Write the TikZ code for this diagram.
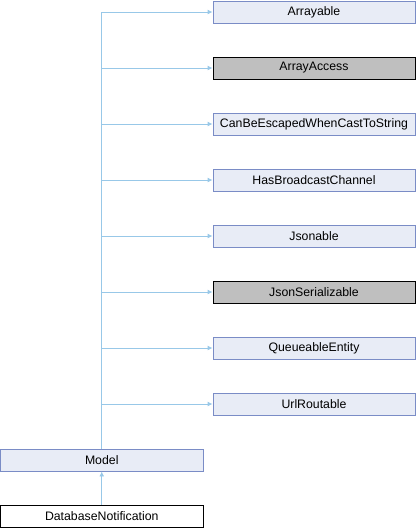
\documentclass[tikz,border=0pt]{standalone}
\usepackage{fontspec}
\setmainfont{Liberation Sans}
\usetikzlibrary{arrows.meta}
\definecolor{boxfill}{RGB}{232,236,246}
\definecolor{boxline}{RGB}{122,140,198}
\definecolor{extfill}{RGB}{191,191,191}
\definecolor{edgecol}{RGB}{152,200,232}
\tikzset{
	cls/.style={draw=boxline, fill=boxfill, minimum width=202pt, minimum height=22pt, inner sep=0pt, font=\fontsize{12.3}{14}\selectfont},
	ext/.style={cls, draw=black, fill=extfill},
	leaf/.style={cls, draw=black, fill=white},
	inh/.style={draw=edgecol, -{Latex[length=5pt,width=5pt]}}
}
\begin{document}
\begin{tikzpicture}[x=1pt,y=-1pt,line width=0.9pt]
		\useasboundingbox (0,0) rectangle (416,528);
		\node[cls] (arrayable) at (314,12) {Arrayable};
		\node[ext] (arrayaccess) at (314,68) {ArrayAccess};
		\node[cls] (escaped) at (314,124) {CanBeEscapedWhenCastToString};
		\node[cls] (broadcast) at (314,180) {HasBroadcastChannel};
		\node[cls] (jsonable) at (314,236) {Jsonable};
		\node[ext] (jsonser) at (314,292) {JsonSerializable};
		\node[cls] (queueable) at (314,348) {QueueableEntity};
		\node[cls] (urlroutable) at (314,404) {UrlRoutable};
		\node[cls, minimum width=202.5pt] (model) at (101.75,460) {Model};
		\node[leaf, minimum width=202.5pt] (dbnotif) at (101.75,516) {DatabaseNotification};
		\coordinate (top) at (model.north |- arrayable.west);
		\draw[draw=edgecol] (model.north) -- (top);
		\foreach \iface in {arrayable,arrayaccess,escaped,broadcast,jsonable,jsonser,queueable,urlroutable}
			\draw[inh] (model.north |- \iface.west) -- (\iface.west);
		\draw[inh] (dbnotif.north) -- (model.south);
	\end{tikzpicture}
\end{document}
